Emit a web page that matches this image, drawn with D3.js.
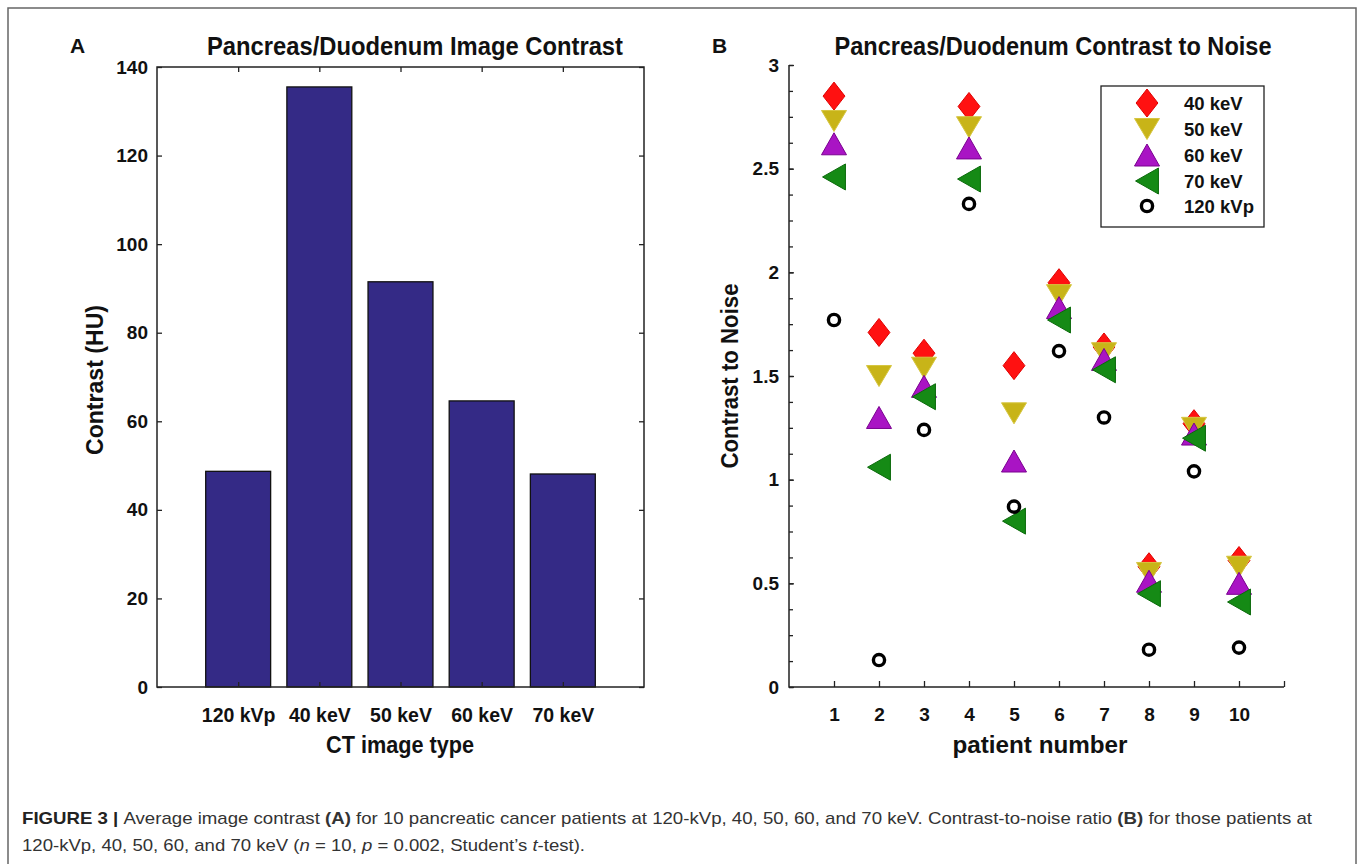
<!DOCTYPE html>
<html><head><meta charset="utf-8">
<script src="https://cdn.jsdelivr.net/npm/d3@7"></script>
<style>
html,body{margin:0;padding:0;background:#fff;}
svg{display:block;}
</style></head>
<body>
<svg id="fig" width="1362" height="864"></svg>
<script>
// ---------- data ----------
const categoriesA = ["120 kVp", "40 keV", "50 keV", "60 keV", "70 keV"];
const contrastA = [48.7, 135.5, 91.5, 64.6, 48.1];
const yTicksA = [0, 20, 40, 60, 80, 100, 120, 140];

const patients = [1, 2, 3, 4, 5, 6, 7, 8, 9, 10];
const cnr40 = [2.85, 1.71, 1.61, 2.80, 1.55, 1.95, 1.64, 0.58, 1.27, 0.61];
const cnr50 = [2.73, 1.50, 1.54, 2.70, 1.32, 1.89, 1.61, 0.55, 1.25, 0.58];
const cnr60 = [2.62, 1.30, 1.45, 2.60, 1.09, 1.83, 1.58, 0.51, 1.22, 0.50];
const cnr70 = [2.46, 1.06, 1.40, 2.45, 0.80, 1.77, 1.53, 0.45, 1.20, 0.41];
const cnr120 = [1.77, 0.13, 1.24, 2.33, 0.87, 1.62, 1.30, 0.18, 1.04, 0.19];
const seriesNames = ["40 keV", "50 keV", "60 keV", "70 keV", "120 kVp"];
const yTicksB = [0, 0.5, 1, 1.5, 2, 2.5, 3];
const yTickLabelsB = ["0", "0.5", "1", "1.5", "2", "2.5", "3"];

// ---------- setup ----------
const svg = d3.select("#fig");
const FONT = "'Liberation Sans', Arial, Helvetica, sans-serif";

// outer frame
svg.append("rect").attr("x", 8).attr("y", 8).attr("width", 1348).attr("height", 880)
  .attr("fill", "none").attr("stroke", "#666").attr("stroke-width", 1.5);

function styleText(sel, size) {
  sel.attr("font-family", FONT).attr("font-weight", "bold").attr("font-size", size).attr("fill", "#111");
}

// ---------- Panel A ----------
const A = {l: 157, r: 644, t: 67, b: 687};
const xA = d3.scaleLinear().domain([0, 6]).range([A.l, A.r]);
const yA = d3.scaleLinear().domain([0, 140]).range([A.b, A.t]);
const gA = svg.append("g");

gA.selectAll("rect.bar").data(contrastA).join("rect").attr("class", "bar")
  .attr("x", (d, i) => xA(i + 1 - 0.4))
  .attr("width", xA(0.8) - xA(0))
  .attr("y", d => yA(d))
  .attr("height", d => yA(0) - yA(d))
  .attr("fill", "#342a86").attr("stroke", "#111").attr("stroke-width", 1.3);

// box
gA.append("rect").attr("x", A.l).attr("y", A.t).attr("width", A.r - A.l).attr("height", A.b - A.t)
  .attr("fill", "none").attr("stroke", "#222").attr("stroke-width", 1.5);

const axLeftA = d3.axisLeft(yA).tickValues(yTicksA).tickSize(-5).tickPadding(9).tickFormat(d3.format("d"));
const gyA = gA.append("g").attr("transform", `translate(${A.l},0)`).call(axLeftA);
const axRightA = d3.axisRight(yA).tickValues(yTicksA).tickSize(-5).tickFormat("");
const gyA2 = gA.append("g").attr("transform", `translate(${A.r},0)`).call(axRightA);
const axBottomA = d3.axisBottom(xA).tickValues([1, 2, 3, 4, 5]).tickSize(-5).tickPadding(21)
  .tickFormat(d => categoriesA[d - 1]);
const gxA = gA.append("g").attr("transform", `translate(0,${A.b})`).call(axBottomA);
const axTopA = d3.axisTop(xA).tickValues([1, 2, 3, 4, 5]).tickSize(-5).tickFormat("");
const gxA2 = gA.append("g").attr("transform", `translate(0,${A.t})`).call(axTopA);
[gyA, gyA2, gxA, gxA2].forEach(g => {
  g.select(".domain").remove();
  g.selectAll(".tick line").attr("stroke", "#222").attr("stroke-width", 1.3);
  styleText(g.selectAll("text"), 19);
});
gxA.selectAll("text").attr("font-size", 19.5);

gA.append("text").attr("x", 415).attr("y", 55).attr("text-anchor", "middle")
  .call(styleText, 25).attr("textLength", 416).attr("lengthAdjust", "spacingAndGlyphs")
  .text("Pancreas/Duodenum Image Contrast");
gA.append("text").attr("x", 400).attr("y", 753).attr("text-anchor", "middle")
  .call(styleText, 24).attr("textLength", 148).attr("lengthAdjust", "spacingAndGlyphs")
  .text("CT image type");
gA.append("text").attr("transform", "translate(103,380) rotate(-90)").attr("text-anchor", "middle")
  .call(styleText, 24).attr("textLength", 150).attr("lengthAdjust", "spacingAndGlyphs")
  .text("Contrast (HU)");
gA.append("text").attr("x", 70).attr("y", 53).call(styleText, 21).text("A");

// ---------- Panel B ----------
const B = {l: 789, r: 1284, t: 65, b: 687};
const xB = d3.scaleLinear().domain([0, 11]).range([B.l, B.r]);
const yB = d3.scaleLinear().domain([0, 3]).range([B.b, B.t]);
const gB = svg.append("g");

gB.append("path").attr("d", d3.line()([[B.l, B.t], [B.l, B.b], [B.r, B.b]]))
  .attr("fill", "none").attr("stroke", "#222").attr("stroke-width", 1.5);

const minorTicks = d3.range(0, 3.001, 0.125);
const axLeftB = d3.axisLeft(yB).tickValues(minorTicks).tickSize(-4).tickFormat(() => "");
const gyBm = gB.append("g").attr("transform", `translate(${B.l},0)`).call(axLeftB);
const axLeftBL = d3.axisLeft(yB).tickValues(yTicksB).tickSize(-5).tickPadding(10)
  .tickFormat((d, i) => yTickLabelsB[i]);
const gyB = gB.append("g").attr("transform", `translate(${B.l},0)`).call(axLeftBL);
const axBottomB = d3.axisBottom(xB).tickValues(d3.range(1, 12)).tickSize(-6).tickPadding(21)
  .tickFormat(d => d <= 10 ? String(d) : "");
const gxB = gB.append("g").attr("transform", `translate(0,${B.b})`).call(axBottomB);
[gyBm, gyB, gxB].forEach(g => {
  g.select(".domain").remove();
  g.selectAll(".tick line").attr("stroke", "#222").attr("stroke-width", 1.3);
  styleText(g.selectAll("text"), 19);
});

// custom marker shapes (MATLAB-like)
const symDiamond = {draw(c, s) { const h = s / 2, w = s * 0.39; c.moveTo(0, -h); c.lineTo(w, 0); c.lineTo(0, h); c.lineTo(-w, 0); c.closePath(); }};
const symDown = {draw(c, s) { const w = s / 2, h = s * 0.42; c.moveTo(-w, -h); c.lineTo(w, -h); c.lineTo(0, h); c.closePath(); }};
const symUp = {draw(c, s) { const w = s / 2, h = s * 0.44; c.moveTo(-w, h); c.lineTo(w, h); c.lineTo(0, -h); c.closePath(); }};
const symLeft = {draw(c, s) { const h = s / 2, w = s * 0.44; c.moveTo(w, -h); c.lineTo(w, h); c.lineTo(-w, 0); c.closePath(); }};

const series = [
  {name: seriesNames[0], vals: cnr40, type: symDiamond, size: 28, fill: "#ff1111", stroke: "#e00000"},
  {name: seriesNames[1], vals: cnr50, type: symDown, size: 25, fill: "#c8b418", stroke: "#d6c640"},
  {name: seriesNames[2], vals: cnr60, type: symUp, size: 25, fill: "#a914c4", stroke: "#7a0090"},
  {name: seriesNames[3], vals: cnr70, type: symLeft, size: 26, fill: "#158a15", stroke: "#0b6a0b"},
];

series.forEach(s => {
  gB.append("g").selectAll("path").data(s.vals).join("path")
    .attr("transform", (d, i) => `translate(${xB(patients[i])},${yB(d)})`)
    .attr("d", d3.symbol().type(s.type).size(s.size)())
    .attr("fill", s.fill).attr("stroke", s.stroke).attr("stroke-width", 1);
});
gB.append("g").selectAll("circle").data(cnr120).join("circle")
  .attr("cx", (d, i) => xB(patients[i])).attr("cy", d => yB(d)).attr("r", 5.6)
  .attr("fill", "none").attr("stroke", "#000").attr("stroke-width", 3.4);

// legend
const leg = gB.append("g");
leg.append("rect").attr("x", 1101).attr("y", 86).attr("width", 163).attr("height", 141)
  .attr("fill", "#fff").attr("stroke", "#222").attr("stroke-width", 1.3);
const legY = [103, 129, 155, 181, 206];
series.forEach((s, i) => {
  leg.append("path").attr("transform", `translate(1147,${legY[i]})`)
    .attr("d", d3.symbol().type(s.type).size(s.size)())
    .attr("fill", s.fill).attr("stroke", s.stroke).attr("stroke-width", 1);
});
leg.append("circle").attr("cx", 1147).attr("cy", legY[4]).attr("r", 5.6)
  .attr("fill", "none").attr("stroke", "#000").attr("stroke-width", 3.4);
leg.selectAll("text.lg").data(seriesNames).join("text").attr("class", "lg")
  .attr("x", 1184).attr("y", (d, i) => legY[i] + 7)
  .call(styleText, 18.5)
  .text(d => d);

gB.append("text").attr("x", 1053).attr("y", 55).attr("text-anchor", "middle")
  .call(styleText, 25).attr("textLength", 437).attr("lengthAdjust", "spacingAndGlyphs")
  .text("Pancreas/Duodenum Contrast to Noise");
gB.append("text").attr("x", 1040).attr("y", 753).attr("text-anchor", "middle")
  .call(styleText, 24).attr("textLength", 175).attr("lengthAdjust", "spacingAndGlyphs")
  .text("patient number");
gB.append("text").attr("transform", "translate(738,376) rotate(-90)").attr("text-anchor", "middle")
  .call(styleText, 24).attr("textLength", 185).attr("lengthAdjust", "spacingAndGlyphs")
  .text("Contrast to Noise");
gB.append("text").attr("x", 712).attr("y", 53).call(styleText, 21).text("B");

// ---------- Caption ----------
const cap = svg.append("g").attr("font-family", FONT).attr("font-size", 17).attr("fill", "#333");
const l1 = cap.append("text").attr("x", 22).attr("y", 824).attr("textLength", 1290).attr("lengthAdjust", "spacingAndGlyphs");
l1.append("tspan").attr("font-weight", "bold").attr("fill", "#222").text("FIGURE 3 | ");
l1.append("tspan").text("Average image contrast ");
l1.append("tspan").attr("font-weight", "bold").text("(A)");
l1.append("tspan").text(" for 10 pancreatic cancer patients at 120-kVp, 40, 50, 60, and 70 keV. Contrast-to-noise ratio ");
l1.append("tspan").attr("font-weight", "bold").text("(B)");
l1.append("tspan").text(" for those patients at");
const l2 = cap.append("text").attr("x", 22).attr("y", 851).attr("textLength", 563).attr("lengthAdjust", "spacingAndGlyphs");
l2.append("tspan").text("120-kVp, 40, 50, 60, and 70 keV (");
l2.append("tspan").attr("font-style", "italic").text("n");
l2.append("tspan").text(" = 10, ");
l2.append("tspan").attr("font-style", "italic").text("p");
l2.append("tspan").text(" = 0.002, Student\u2019s ");
l2.append("tspan").attr("font-style", "italic").text("t");
l2.append("tspan").text("-test).");
</script>
</body></html>
